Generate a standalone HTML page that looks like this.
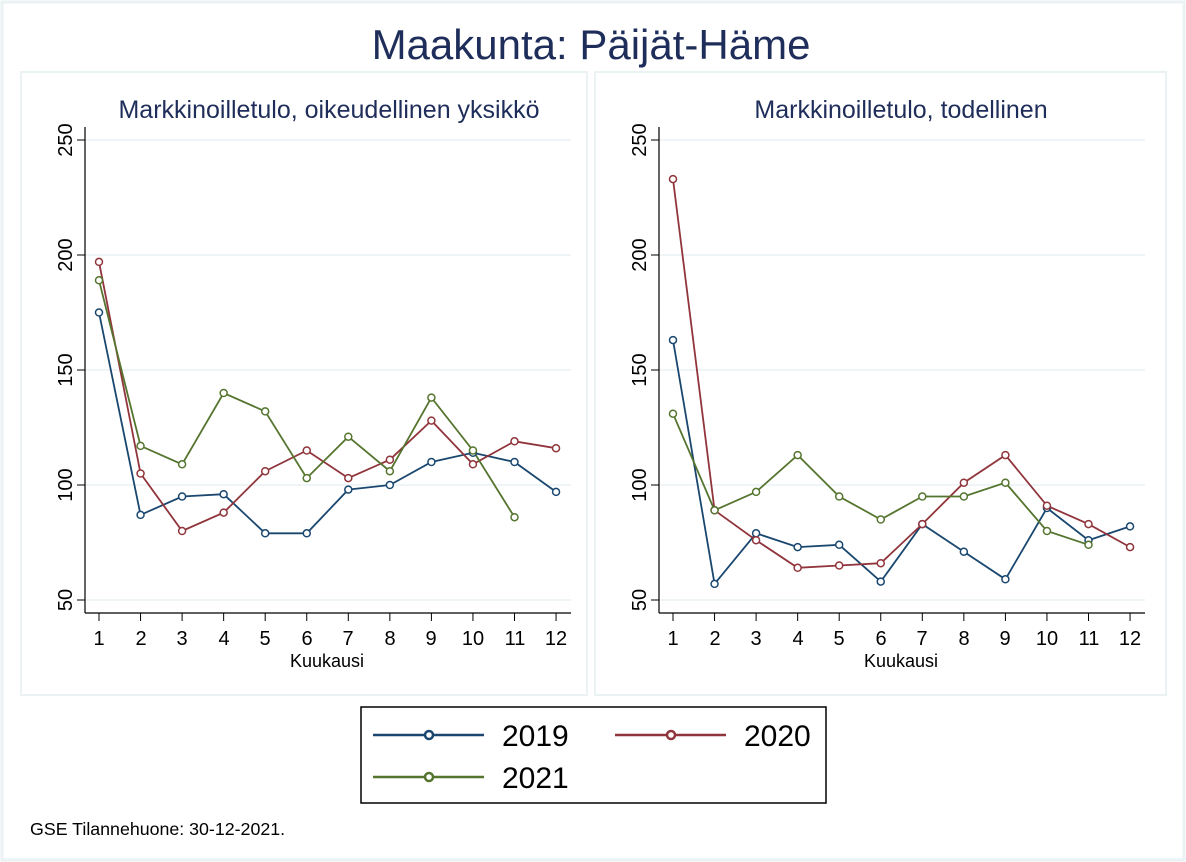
<!DOCTYPE html>
<html><head><meta charset="utf-8"><style>
body{margin:0;background:#fff}
svg{display:block;font-family:"Liberation Sans",sans-serif}
</style></head><body>
<svg id="s" width="1186" height="862" viewBox="0 0 1186 862">
<rect x="0" y="0" width="1186" height="862" fill="#fff"/>
<rect x="2" y="2" width="1182" height="858" fill="none" stroke="#eaf2f3" stroke-width="3"/>
<text x="591" y="59" font-size="42" fill="#1e2d5a" text-anchor="middle">Maakunta: Päijät-Häme</text>
<rect x="21" y="72" width="566" height="623" fill="#fff" stroke="#eaf2f3" stroke-width="2"/>
<rect x="595" y="72" width="571" height="623" fill="#fff" stroke="#eaf2f3" stroke-width="2"/>
<text x="329" y="118" font-size="25" fill="#1e2d5a" text-anchor="middle">Markkinoilletulo, oikeudellinen yksikkö</text>
<text x="901" y="118" font-size="25" fill="#1e2d5a" text-anchor="middle">Markkinoilletulo, todellinen</text>
<g id="g"></g>
<g font-size="20" fill="#000" text-anchor="middle">
<text transform="translate(72,140) rotate(-90)">250</text>
<text transform="translate(72,255) rotate(-90)">200</text>
<text transform="translate(72,370) rotate(-90)">150</text>
<text transform="translate(72,485) rotate(-90)">100</text>
<text transform="translate(72,600) rotate(-90)">50</text>
<text transform="translate(646,140) rotate(-90)">250</text>
<text transform="translate(646,255) rotate(-90)">200</text>
<text transform="translate(646,370) rotate(-90)">150</text>
<text transform="translate(646,485) rotate(-90)">100</text>
<text transform="translate(646,600) rotate(-90)">50</text>
<text x="99" y="645">1</text><text x="141" y="645">2</text><text x="182" y="645">3</text><text x="224" y="645">4</text><text x="265" y="645">5</text><text x="307" y="645">6</text><text x="348" y="645">7</text><text x="390" y="645">8</text><text x="431" y="645">9</text><text x="473" y="645">10</text><text x="515" y="645">11</text><text x="556" y="645">12</text>
<text x="673" y="645">1</text><text x="715" y="645">2</text><text x="756" y="645">3</text><text x="798" y="645">4</text><text x="839" y="645">5</text><text x="881" y="645">6</text><text x="922" y="645">7</text><text x="964" y="645">8</text><text x="1005" y="645">9</text><text x="1047" y="645">10</text><text x="1089" y="645">11</text><text x="1130" y="645">12</text>
</g>
<text x="327" y="667" font-size="18" text-anchor="middle">Kuukausi</text>
<text x="901" y="667" font-size="18" text-anchor="middle">Kuukausi</text>
<rect x="361" y="707" width="465" height="96" fill="#fff" stroke="#000" stroke-width="1.5"/>
<g stroke-width="2.5" fill="#fff">
<line x1="373" y1="735" x2="484" y2="735" stroke="#1a476f"/><circle cx="429" cy="735" r="4" stroke="#1a476f"/>
<line x1="615" y1="735" x2="726" y2="735" stroke="#90353b"/><circle cx="671" cy="735" r="4" stroke="#90353b"/>
<line x1="373" y1="777" x2="484" y2="777" stroke="#55752f"/><circle cx="429" cy="777" r="4" stroke="#55752f"/>
</g>
<g font-size="30" fill="#000"><text x="502" y="746">2019</text><text x="744" y="746">2020</text><text x="502" y="788">2021</text></g>
<text x="30" y="835" font-size="17.8">GSE Tilannehuone: 30-12-2021.</text>
</svg>
<script>
var g=document.getElementById('g'),NS='http://www.w3.org/2000/svg';
function el(t,a){var e=document.createElementNS(NS,t);for(var k in a)e.setAttribute(k,a[k]);g.appendChild(e);return e}
var Y=function(v){return 600-(v-50)*2.3};
var cols=['#1a476f','#90353b','#55752f'];
var L=[[175,87,95,96,79,79,98,100,110,114,110,97],[197,105,80,88,106,115,103,111,128,109,119,116],[189,117,109,140,132,103,121,106,138,115,86]];
var R=[[163,57,79,73,74,58,83,71,59,90,76,82],[233,89,76,64,65,66,83,101,113,91,83,73],[131,89,97,113,95,85,95,95,101,80,74]];
[[85,99,L],[659,673,R]].forEach(function(p){
 var ax=p[0],x0=p[1];
 [50,100,150,200,250].forEach(function(v){el('line',{x1:ax,x2:ax+486,y1:Y(v),y2:Y(v),stroke:'#eaf2f3','stroke-width':1.5});el('line',{x1:ax-8,x2:ax,y1:Y(v),y2:Y(v),stroke:'#000','stroke-width':1})});
 el('line',{x1:ax,x2:ax,y1:127,y2:613,stroke:'#000','stroke-width':1.2});
 el('line',{x1:ax,x2:ax+486,y1:613,y2:613,stroke:'#000','stroke-width':1.2});
 for(var i=0;i<12;i++){var x=x0+i*41.55;el('line',{x1:x,x2:x,y1:613,y2:621,stroke:'#000','stroke-width':1})}
 p[2].forEach(function(d,k){
  var pts=d.map(function(v,i){return (x0+i*41.55)+','+Y(v)}).join(' ');
  el('polyline',{points:pts,fill:'none',stroke:cols[k],'stroke-width':1.8});
 });
 p[2].forEach(function(d,k){d.forEach(function(v,i){el('circle',{cx:x0+i*41.55,cy:Y(v),r:3.5,fill:'#fff',stroke:cols[k],'stroke-width':1.5})})});
});
</script>
</body></html>
